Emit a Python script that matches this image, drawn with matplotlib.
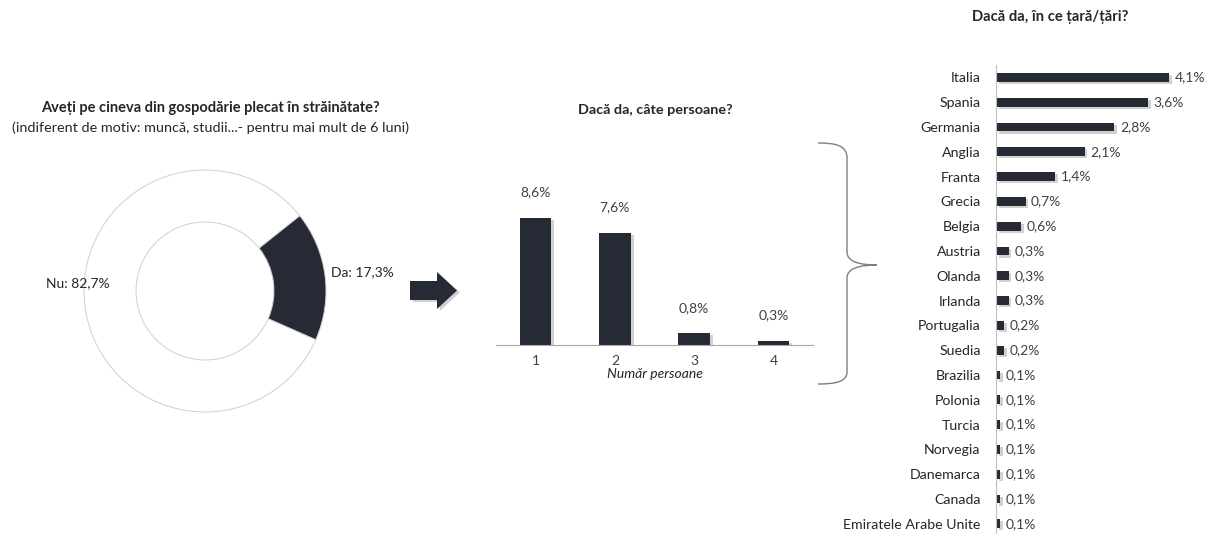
import numpy as np
import matplotlib.pyplot as plt
from matplotlib.path import Path
from matplotlib.patches import PathPatch, Polygon
import matplotlib.patheffects as pe

plt.rcParams['font.family'] = ['Lato', 'DejaVu Sans']

DARK = '#252a34'
TXT = '#262626'

# data
donut_labels = ['Da', 'Nu']
donut_values = [17.3, 82.7]

nr_labels = ['1', '2', '3', '4']
nr_values = [8.6, 7.6, 0.8, 0.3]

tari = ['Italia', 'Spania', 'Germania', 'Anglia', 'Franta', 'Grecia', 'Belgia',
        'Austria', 'Olanda', 'Irlanda', 'Portugalia', 'Suedia', 'Brazilia',
        'Polonia', 'Turcia', 'Norvegia', 'Danemarca', 'Canada',
        'Emiratele Arabe Unite']
tari_values = [4.1, 3.6, 2.8, 2.1, 1.4, 0.7, 0.6, 0.3, 0.3, 0.3, 0.2, 0.2,
               0.1, 0.1, 0.1, 0.1, 0.1, 0.1, 0.1]

W, H = 1208, 534
fig = plt.figure(figsize=(W / 100, H / 100), dpi=100)


def box(left, top, width, height):
    # pixel box (from top-left) -> figure fraction
    return [left / W, (H - top - height) / H, width / W, height / H]


def fmt(v):
    return f'{v:.1f}'.replace('.', ',') + '%'


shadow = [pe.SimplePatchShadow(offset=(2, -1.5), shadow_rgbFace='#9a9a9a', alpha=0.45), pe.Normal()]

# donut
ax1 = fig.add_axes(box(84, 170, 242, 242))
wedges, _ = ax1.pie(donut_values, colors=[DARK, 'white'], startangle=38.5, counterclock=False,
                    radius=1, wedgeprops=dict(width=0.43, edgecolor='#cfcfcf', linewidth=0.7))
ax1.set_xlim(-1, 1)
ax1.set_ylim(-1, 1)
ax1.set_aspect('equal')

# bars: number of persons
ax2 = fig.add_axes(box(496, 197, 317, 148))
ax2.patch.set_visible(False)
x = np.arange(1, len(nr_values) + 1)
bars = ax2.bar(x, nr_values, width=0.4, color=DARK)
for b in bars:
    b.set_path_effects(shadow)
ax2.set_xlim(0.5, 4.5)
ax2.set_ylim(0, 10)
for xi, v in zip(x, nr_values):
    ax2.annotate(fmt(v), (xi, v), xytext=(0, 14), textcoords='offset points', ha='center',
                 va='bottom', fontsize=10, color='#404040')
ax2.set_xticks(x)
ax2.set_xticklabels(nr_labels, fontsize=10, color='#404040')
ax2.tick_params(axis='x', length=0, pad=7)
ax2.set_yticks([])
for s in ['top', 'right', 'left']:
    ax2.spines[s].set_visible(False)
ax2.spines['bottom'].set_color('#a6a6a6')
ax2.set_xlabel('Număr persoane', fontsize=10, fontstyle='italic', color=TXT, labelpad=1)

# horizontal bars: countries
ax3 = fig.add_axes(box(996, 65, 212, 469))
ax3.patch.set_visible(False)
y = np.arange(len(tari))
hb = ax3.barh(y, tari_values, height=0.36, color=DARK)
for b in hb:
    b.set_path_effects(shadow)
ax3.set_xlim(0, 5.02)
ax3.set_ylim(18.41, -0.5)
for yi, v in zip(y, tari_values):
    ax3.annotate(fmt(v), (v, yi), xytext=(4, 0), textcoords='offset points', ha='left',
                 va='center', fontsize=10, color='#404040')
ax3.set_yticks(y)
ax3.set_yticklabels(tari, fontsize=10.2, color=TXT)
ax3.tick_params(axis='y', length=0, pad=11)
ax3.set_xticks([])
for s in ['top', 'right', 'bottom']:
    ax3.spines[s].set_visible(False)
ax3.spines['left'].set_color('#bfbfbf')

# overlay for titles, labels, arrow, brace
ov = fig.add_axes([0, 0, 1, 1])
ov.set_zorder(10)
ov.patch.set_visible(False)
ov.set_xlim(0, W)
ov.set_ylim(H, 0)
ov.axis('off')

ov.text(210, 108, 'Aveți pe cineva din gospodărie plecat în străinătate?', ha='center', va='center',
        fontsize=10.5, fontweight='bold', color=TXT)
ov.text(210, 128, '(indiferent de motiv: muncă, studii...- pentru mai mult de 6 luni)', ha='center',
        va='center', fontsize=10.4, color=TXT)
ov.text(655, 110, 'Dacă da, câte persoane?', ha='center', va='center', fontsize=10.4,
        fontweight='bold', color=TXT)
ov.text(1050, 17, 'Dacă da, în ce țară/țări?', ha='center', va='center', fontsize=10.6,
        fontweight='bold', color=TXT)

ov.text(331, 272, f'{donut_labels[0]}: {fmt(donut_values[0])}', ha='left', va='center', fontsize=10, color=TXT)
ov.text(78, 283, f'{donut_labels[1]}: {fmt(donut_values[1])}', ha='center', va='center', fontsize=10, color=TXT)

arrow = Polygon([(410, 281), (437, 281), (437, 272), (457, 290.5), (437, 309), (437, 300), (410, 300)],
                closed=True, facecolor=DARK, edgecolor='none')
arrow.set_path_effects(shadow)
ov.add_patch(arrow)

verts = [(818, 143), (835, 143), (847, 145), (847, 158),
         (847, 252),
         (847, 262), (860, 265), (877, 265),
         (860, 265), (847, 268), (847, 278),
         (847, 372),
         (847, 382), (835, 384), (818, 384)]
codes = [Path.MOVETO, Path.CURVE4, Path.CURVE4, Path.CURVE4,
         Path.LINETO,
         Path.CURVE4, Path.CURVE4, Path.CURVE4,
         Path.CURVE4, Path.CURVE4, Path.CURVE4,
         Path.LINETO,
         Path.CURVE4, Path.CURVE4, Path.CURVE4]
ov.add_patch(PathPatch(Path(verts, codes), facecolor='none', edgecolor='#7f7f7f', lw=1))

fig.savefig('out.png', dpi=100)
